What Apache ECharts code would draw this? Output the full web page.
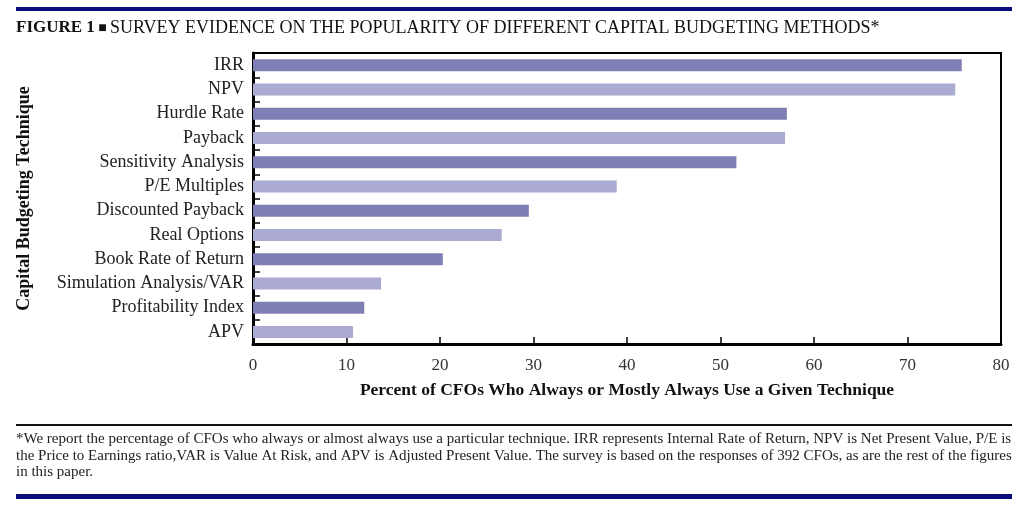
<!DOCTYPE html>
<html><head><meta charset="utf-8">
<script src="https://cdn.jsdelivr.net/npm/echarts@6/dist/echarts.min.js"></script>
<style>html,body{margin:0;padding:0;background:#fff}#c{width:1024px;height:507px}</style>
</head><body><div id="c"></div>
<script>
const categories = ['IRR','NPV','Hurdle Rate','Payback','Sensitivity Analysis','P/E Multiples','Discounted Payback','Real Options','Book Rate of Return','Simulation Analysis/VAR','Profitability Index','APV'];
const values = [75.8, 75.1, 57.1, 56.9, 51.7, 38.9, 29.5, 26.6, 20.3, 13.7, 11.9, 10.7];
const xTicks = [0,10,20,30,40,50,60,70,80];
const titleBold = 'FIGURE 1';
const titleText = 'SURVEY EVIDENCE ON THE POPULARITY OF DIFFERENT CAPITAL BUDGETING METHODS*';
const xName = 'Percent of CFOs Who Always or Mostly Always Use a Given Technique';
const yName = 'Capital Budgeting Technique';
const footLines = [
 '*We report the percentage of CFOs who always or almost always use a particular technique. IRR represents Internal Rate of Return, NPV is Net Present Value, P/E is',
 'the Price to Earnings ratio,VAR is Value At Risk, and APV is Adjusted Present Value. The survey is based on the responses of 392 CFOs, as are the rest of the figures',
 'in this paper.'
];
const serif = '"Liberation Serif","DejaVu Serif",serif';
const dark = '#7f7fb5', light = '#aaaad3';

const chart = echarts.init(document.getElementById('c'), null, {renderer:'canvas'});
const graphics = [
  {type:'rect', shape:{x:16,y:7,width:996,height:4}, style:{fill:'#0b0b7a'}},
  {type:'text', left:16, top:19, style:{
    text:'{b|'+titleBold+'} {s|■} {n|'+titleText+'}',
    rich:{
      b:{fontFamily:serif,fontWeight:'bold',fontSize:17,fill:'#111'},
      s:{fontFamily:serif,fontSize:14,fill:'#111'},
      n:{fontFamily:serif,fontSize:18,fill:'#111'}
    }
  }},
  {type:'rect', shape:{x:16,y:424,width:996,height:2}, style:{fill:'#111'}},
  {type:'rect', shape:{x:16,y:494,width:996,height:5}, style:{fill:'#0b0b7a'}}
];
footLines.forEach((t,i)=>{
  graphics.push({type:'text', left:16, top:432+i*16.5, style:{text:t, fontFamily:serif, fontSize:15, fill:'#222'}});
});

chart.setOption({
  animation:false,
  backgroundColor:'#fff',
  graphic:graphics,
  grid:{left:253, right:23, top:53, bottom:163, show:true, borderColor:'#000', borderWidth:2, containLabel:false},
  xAxis:{
    type:'value', min:xTicks[0], max:xTicks[xTicks.length-1], interval:10,
    name:xName, nameLocation:'middle', nameGap:37,
    nameTextStyle:{fontFamily:serif, fontWeight:'bold', fontSize:17.5, color:'#111'},
    axisLine:{show:true, lineStyle:{color:'#000', width:3}},
    axisTick:{show:true, inside:true, length:7, lineStyle:{color:'#000', width:1.5}},
    axisLabel:{fontFamily:serif, fontSize:17, color:'#333', margin:13},
    splitLine:{show:false}
  },
  yAxis:{
    type:'category', data:categories, inverse:true,
    name:yName, nameLocation:'middle', nameGap:220, nameRotate:90,
    nameTextStyle:{fontFamily:serif, fontWeight:'bold', fontSize:18, color:'#111'},
    axisLine:{show:true, lineStyle:{color:'#000', width:3}},
    axisTick:{show:true, inside:true, length:7, lineStyle:{color:'#000', width:1.5}},
    axisLabel:{fontFamily:serif, fontSize:18, color:'#222', margin:9},
    splitLine:{show:false}
  },
  series:[{
    type:'bar', data:values, barWidth:12,
    itemStyle:{color:(p)=> p.dataIndex%2===0 ? dark : light}
  }]
});
</script></body></html>
